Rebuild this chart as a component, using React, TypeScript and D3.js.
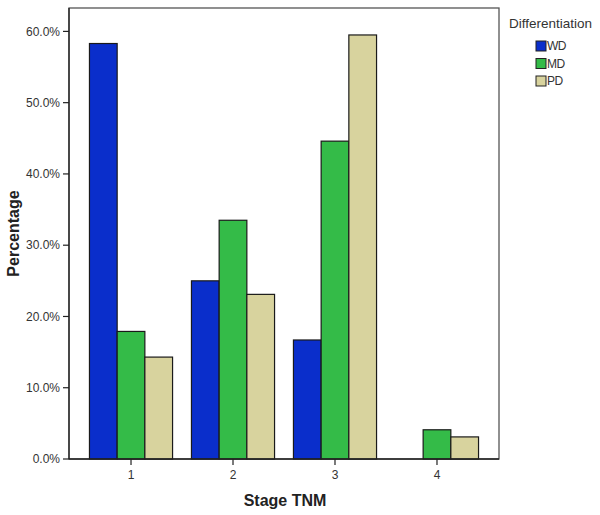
import React from "react";
import * as d3 from "d3";

const categories = ["1", "2", "3", "4"];
const seriesNames = ["WD", "MD", "PD"];
const wdValues = [58.3, 25.0, 16.7, 0.0];
const mdValues = [17.9, 33.5, 44.6, 4.1];
const pdValues = [14.3, 23.1, 59.5, 3.1];
const yTicks = [0, 10, 20, 30, 40, 50, 60];
const colors = ["#0a2ecb", "#34bb48", "#d8d39e"];

export default function App() {
  const W = 600, H = 515;
  const left = 69, right = 499, top = 8, bottom = 459;
  const series = [wdValues, mdValues, pdValues];
  const x = d3.scalePoint<string>().domain(categories).range([left, right]).padding(0.608);
  const y = d3.scaleLinear().domain([0, 60]).range([bottom, 31.4]);
  const barW = 27.7;
  return (
    <svg width={W} height={H} style={{ position: "absolute", left: 0, top: 0, fontFamily: "'Liberation Sans', Arial, sans-serif" }}>
      <rect x={0} y={0} width={W} height={H} fill="#fff" />
      <rect x={left} y={top} width={right - left} height={bottom - top} fill="#fff" stroke="#555" strokeWidth={1.3} />
      {categories.map((c, i) => (
        <g key={c}>
          {series.map((vals, s) => {
            const x0 = (x(c) as number) - 1.5 * barW + s * barW;
            const yv = y(vals[i]);
            return (
              <rect key={s} x={x0} y={yv} width={barW} height={bottom - yv}
                fill={colors[s]} stroke="#1a1a1a" strokeWidth={1.2} />
            );
          })}
        </g>
      ))}
      <line x1={left} x2={left} y1={top} y2={bottom} stroke="#222" strokeWidth={1.3} />
      <line x1={left} x2={right} y1={bottom} y2={bottom} stroke="#222" strokeWidth={1.3} />
      {yTicks.map((t) => (
        <g key={t}>
          <line x1={left - 6} x2={left} y1={y(t)} y2={y(t)} stroke="#222" strokeWidth={1.2} />
          <text x={left - 9} y={y(t)} dy="0.35em" textAnchor="end" fontSize={12} fill="#333">
            {t.toFixed(1) + "%"}
          </text>
        </g>
      ))}
      {categories.map((c) => (
        <g key={c}>
          <line x1={x(c)} x2={x(c)} y1={bottom} y2={bottom + 6} stroke="#222" strokeWidth={1.2} />
          <text x={x(c)} y={479} textAnchor="middle" fontSize={12} fill="#333">{c}</text>
        </g>
      ))}
      <text x={285} y={506} textAnchor="middle" fontSize={16} fontWeight="bold" fill="#222">Stage TNM</text>
      <text transform={`translate(19,${(top + bottom) / 2}) rotate(-90)`} textAnchor="middle" fontSize={16} fontWeight="bold" fill="#222">Percentage</text>
      <text x={509} y={28} fontSize={13.5} fill="#333">Differentiation</text>
      {seriesNames.map((n, i) => (
        <g key={n}>
          <rect x={536} y={41 + i * 17.5} width={10} height={10} fill={colors[i]} stroke="#222" strokeWidth={1} />
          <text x={547} y={46 + i * 17.5} dy="0.35em" fontSize={12} fill="#333" letterSpacing={-0.6}>{n}</text>
        </g>
      ))}
    </svg>
  );
}
